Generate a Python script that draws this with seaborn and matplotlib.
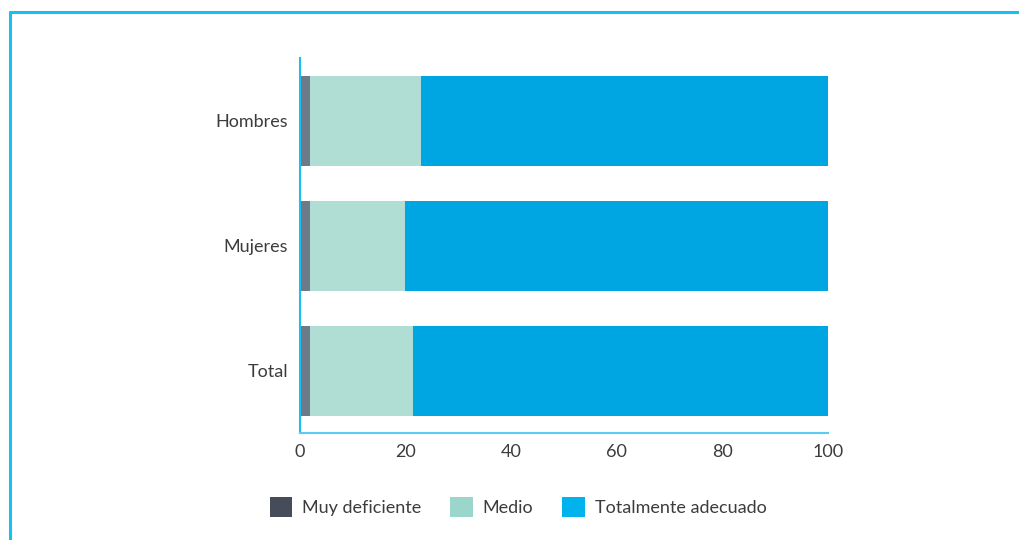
import numpy as np
import pandas as pd
import seaborn as sns
import matplotlib.pyplot as plt
from matplotlib.patches import Patch
from matplotlib.lines import Line2D

# data
groups = ['Hombres', 'Mujeres', 'Total']
muy_deficiente = [1.9, 1.9, 1.9]
medio = [21.0, 18.0, 19.5]
totalmente_adecuado = [77.1, 80.1, 78.6]
series_names = ['Muy deficiente', 'Medio', 'Totalmente adecuado']
x_ticks = [0, 20, 40, 60, 80, 100]

bar_colors = ['#6c7b87', '#b0ddd4', '#00a6e1']
legend_colors = ['#464c5a', '#9bd6cc', '#00b3ec']
text_color = '#3c3c3c'

sns.set_theme(style='white')
plt.rcParams['font.family'] = ['Lato', 'DejaVu Sans']

df = pd.DataFrame({'grupo': groups, 'muy': muy_deficiente,
                   'medio': medio, 'adecuado': totalmente_adecuado})
df['c1'] = df['muy']
df['c2'] = df['muy'] + df['medio']
df['c3'] = df['c2'] + df['adecuado']

fig = plt.figure(figsize=(10.19, 5.40), dpi=100)
ax = fig.add_axes([300 / 1019, 1 - 433 / 540, 528 / 1019, 375 / 540])

# stacked bars: draw cumulative totals back to front
for col, color in zip(['c3', 'c2', 'c1'], bar_colors[::-1]):
    sns.barplot(data=df, x=col, y='grupo', order=groups, color=color,
                width=0.72, saturation=1, ax=ax, linewidth=0)

ax.set_xlim(0, 100)
ax.set_ylim(2.5, -0.5)
ax.set_xticks(x_ticks)
ax.set_xlabel('')
ax.set_ylabel('')
ax.tick_params(axis='both', length=0, labelsize=13, colors=text_color)
ax.tick_params(axis='y', pad=8.5)
ax.tick_params(axis='x', pad=8)
for side in ['top', 'right']:
    ax.spines[side].set_visible(False)
ax.spines['left'].set_color('#19bff0')
ax.spines['bottom'].set_color('#5ccbf0')
ax.spines['left'].set_linewidth(1.5)
ax.spines['bottom'].set_linewidth(1.5)

handles = [Patch(facecolor=c, edgecolor='none', label=n)
           for c, n in zip(legend_colors, series_names)]
fig.legend(handles=handles, loc='center', ncol=3, frameon=False,
           bbox_to_anchor=(518 / 1019, 1 - 507 / 540), fontsize=13,
           handlelength=1.25, handleheight=1.25, handletextpad=0.55,
           columnspacing=1.6, labelcolor=text_color)

# outer frame (top and left only)
fig.add_artist(Line2D([10 / 1019, 1], [1 - 11.5 / 540, 1 - 11.5 / 540],
                      color='#19bff0', lw=2.2, transform=fig.transFigure))
fig.add_artist(Line2D([10 / 1019, 10 / 1019], [0, 1 - 11.5 / 540],
                      color='#19bff0', lw=2.2, transform=fig.transFigure))

fig.savefig('out.png', dpi=100)
